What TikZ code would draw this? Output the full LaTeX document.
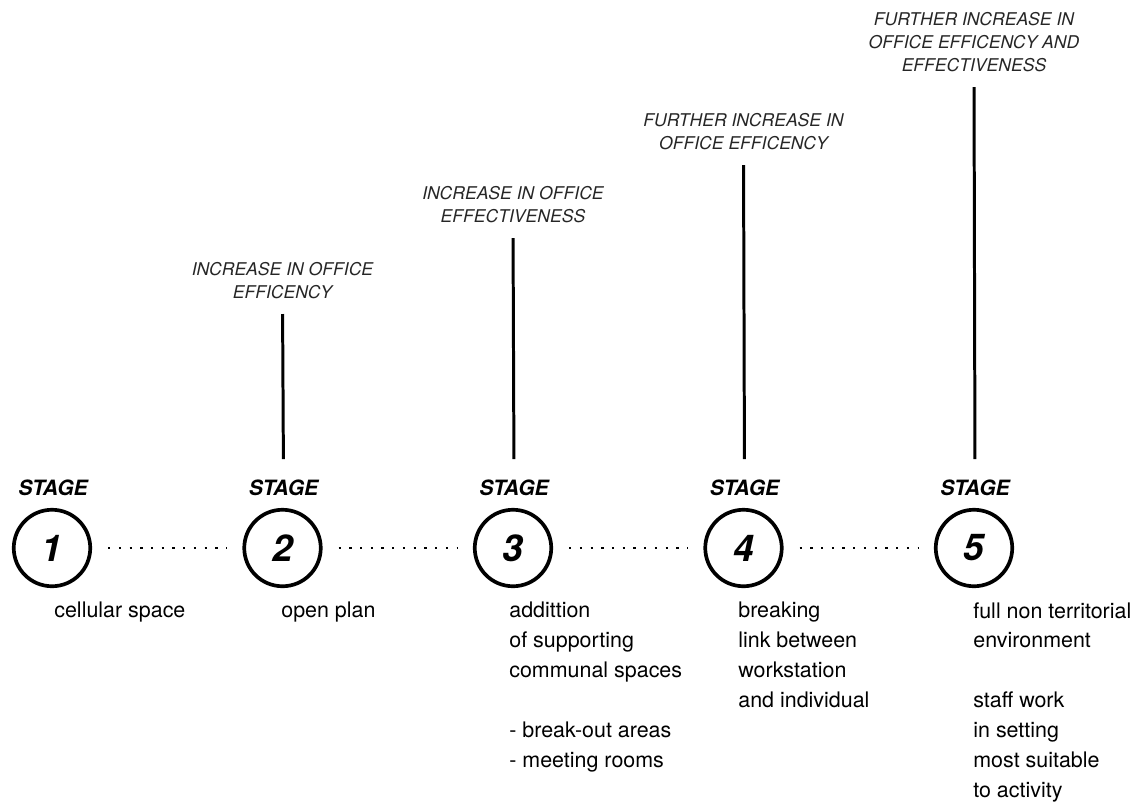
\documentclass[tikz,border=0pt]{standalone}
\usepackage{fontspec}
\setmainfont{TeX Gyre Heros}
\tikzset{stage/.style={circle,draw,line width=2.1pt,minimum size=1.53cm,inner sep=0pt,font=\fontsize{21}{21}\selectfont\bfseries\itshape},
tag/.style={inner sep=0pt,anchor=base,font=\fontsize{12}{12}\selectfont\bfseries\itshape},
gain/.style={inner sep=0pt,anchor=south,align=center,text=black!85,font=\fontsize{10}{13}\selectfont\itshape},
note/.style={inner sep=0pt,anchor=north west,align=left,font=\fontsize{12.2}{17}\selectfont},
dots/.style={line width=1.3pt,dash pattern=on 1.3pt off 4.8pt,shorten <=.32cm,shorten >=.32cm},
rise/.style={line width=1.7pt,shorten <=.3cm,shorten >=.4cm}}
\begin{document}
\begin{tikzpicture}
\useasboundingbox (0,0) rectangle (22.6,-16.1);
% stages
\node[stage] (c1) at (1.04,-10.96) {1};\node[tag] (s1) at (1.06,-9.9) {STAGE};
\node[stage] (c2) at (5.65,-10.96) {2};\node[tag] (s2) at (5.67,-9.9) {STAGE};
\node[stage] (c3) at (10.26,-10.96) {3};\node[tag] (s3) at (10.28,-9.9) {STAGE};
\node[stage] (c4) at (14.87,-10.96) {4};\node[tag] (s4) at (14.89,-9.9) {STAGE};
\node[stage] (c5) at (19.48,-10.96) {5};\node[tag] (s5) at (19.5,-9.9) {STAGE};
\draw[dots] (c1)--(c2);\draw[dots] (c2)--(c3);\draw[dots] (c3)--(c4);\draw[dots] (c4)--(c5);
% gains above
\node[gain] (t2) at (5.65,-5.98) {INCREASE IN OFFICE\\EFFICENCY};
\node[gain] (t3) at (10.26,-4.46) {INCREASE IN OFFICE\\EFFECTIVENESS};
\node[gain] (t4) at (14.87,-3.0) {FURTHER INCREASE IN\\OFFICE EFFICENCY};
\node[gain] (t5) at (19.48,-1.44) {FURTHER INCREASE IN\\OFFICE EFFICENCY AND\\EFFECTIVENESS};
\draw[rise] (t2.south)--(s2.north);\draw[rise] (t3.south)--(s3.north);
\draw[rise] (t4.south)--(s4.north);\draw[rise] (t5.south)--(s5.north);
% notes below
\node[note] (n1) at (1.08,-12.04) {cellular space};
\node[note] (n2) at (5.62,-12.04) {open plan};
\node[note] (n3) at (10.18,-12.04) {addittion\\of supporting\\communal spaces\\[17pt]- break-out areas\\- meeting rooms};
\node[note] (n4) at (14.76,-12.04) {breaking\\link between\\workstation\\and individual};
\node[note] (n5) at (19.46,-12.04) {full non territorial\\environment\\[17pt]staff work\\in setting\\most suitable\\to activity};
\end{tikzpicture}
\end{document}
